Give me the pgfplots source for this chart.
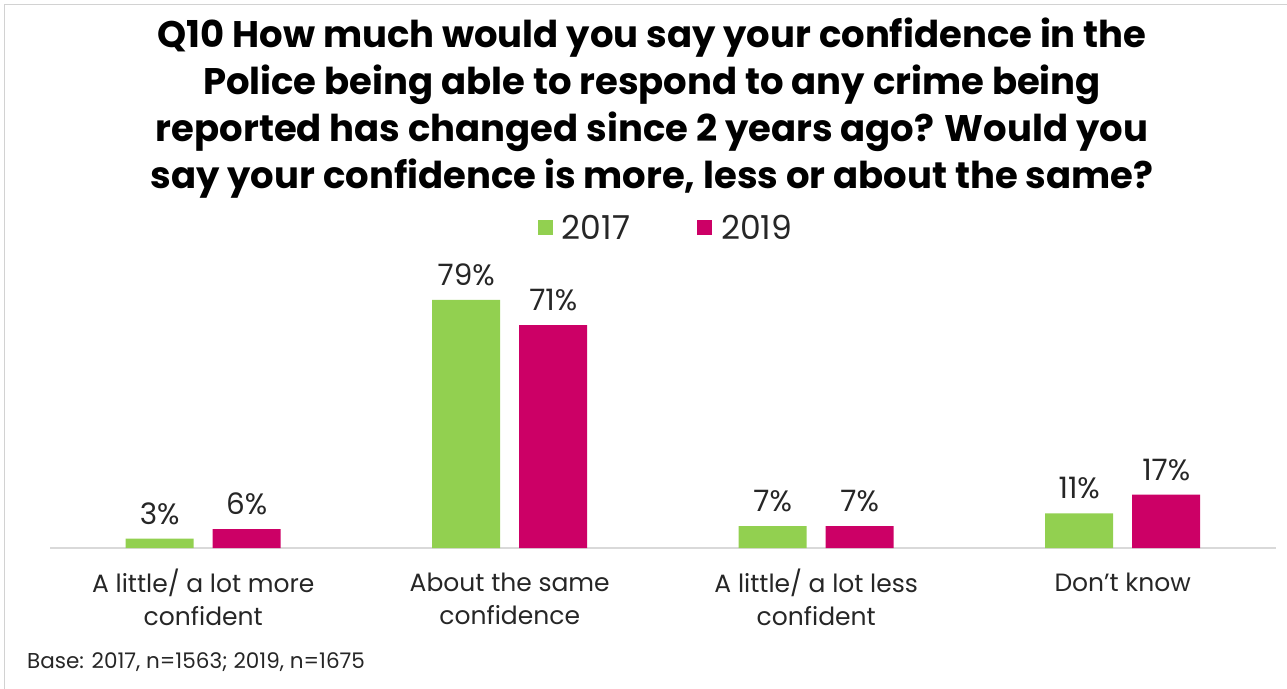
\documentclass[border=0pt]{standalone}
\usepackage{pgfplots}
\pgfplotsset{compat=1.18}
\usepackage{fontspec}
\setmainfont{Poppins}
\definecolor{cgreen}{HTML}{92D050}
\definecolor{cmag}{HTML}{CC0066}
\definecolor{ctext}{HTML}{262626}
\begin{document}
\begin{tikzpicture}[x=1pt,y=1pt]
\begin{scope}
\clip (0,0) rectangle (1287,688);
\draw[gray!35, line width=1.5pt] (4.5,-20) -- (4.5,683.5) -- (1320,683.5);
\end{scope}
\coordinate (A) at (50,140);
\node[anchor=north, align=center, inner sep=0pt, font=\fontsize{37}{47}\selectfont\bfseries] at (652,670)
{Q10 How much would you say your confidence in the\\
Police being able to respond to any crime being\\
reported has changed since 2 years ago? Would you\\
say your confidence is more, less or about the same?};
\node[anchor=base west, inner sep=0pt, font=\fontsize{21.5}{24}\selectfont, text=ctext] at (27,20)
{Base: 2017, n=1563; 2019, n=1675};
\begin{axis}[
  at={(A)}, anchor=south west,
  scale only axis, width=1226pt, height=251.2pt,
  xmin=-0.5, xmax=3.5, ymin=0, ymax=80,
  ybar=19pt, bar width=68pt,
  axis x line*=bottom, axis y line=none,
  x axis line style={draw=gray!30, line width=1.5pt, -},
  xtick=data,
  xticklabels={{\strut A little/ a lot more\\confident},{\strut About the same\\confidence},{\strut A little/ a lot less\\confident},{\strut Don't know}},
  major tick length=0pt,
  xticklabel style={align=center, font=\fontsize{25}{32.5}\selectfont, text=ctext, anchor=north, inner sep=0pt, yshift=-21pt},
  /pgf/number format/assume math mode=true,
  nodes near coords={\pgfmathprintnumber{\pgfplotspointmeta}\%},
  every node near coord/.append style={font=\fontsize{29.5}{30}\selectfont, text=ctext, anchor=south, inner sep=0pt, yshift=14pt},
  legend columns=2,
  legend style={draw=none, fill=none, at={(0.5024,1.274)}, anchor=center,
    font=\fontsize{33}{34}\selectfont, text=ctext,
    /tikz/every odd column/.append style={column sep=7pt},
    /tikz/every even column/.append style={column sep=65pt}},
  clip=false,
]
\addplot[fill=cgreen, draw=none, legend image code/.code={\fill[cgreen] (0pt,-7.5pt) rectangle (15pt,7.5pt);}]
  coordinates {(0,3) (1,79) (2,7) (3,11)};
\addplot[fill=cmag, draw=none, legend image code/.code={\fill[cmag] (0pt,-7.5pt) rectangle (15pt,7.5pt);}]
  coordinates {(0,6) (1,71) (2,7) (3,17)};
\legend{2017,2019}
\end{axis}
\pgfresetboundingbox
\useasboundingbox (0,0) rectangle (1287,688);
\end{tikzpicture}
\end{document}
